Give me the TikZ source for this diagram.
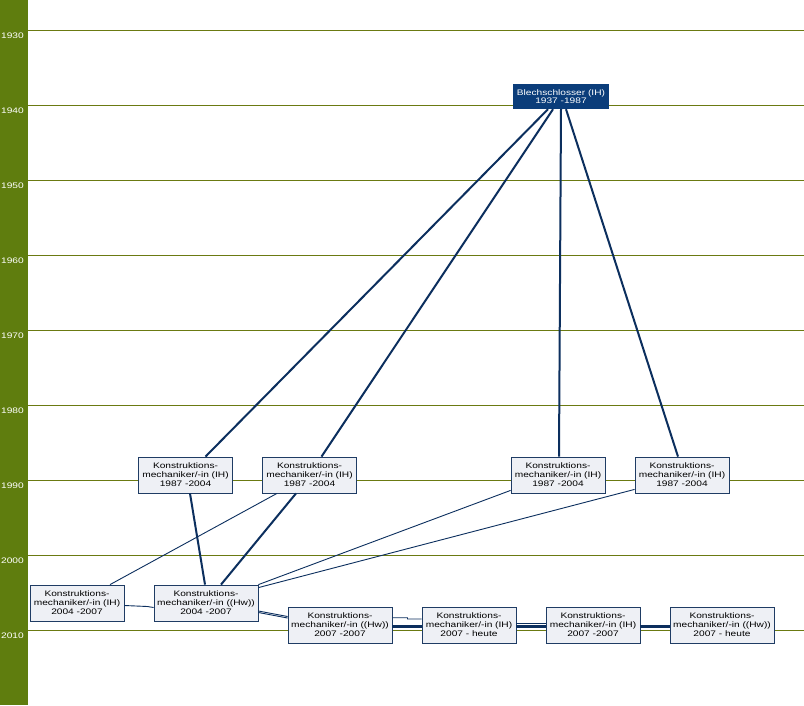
\documentclass[tikz,border=0pt]{standalone}
\usepackage{fontspec}
\setmainfont{Liberation Sans}[FakeStretch=1.27]
\usetikzlibrary{calc}
\definecolor{olivebar}{HTML}{5F7D0E}
\definecolor{gridol}{HTML}{6B7A12}
\definecolor{navy}{HTML}{0C2F5E}
\definecolor{blechfill}{HTML}{0B3D7A}
\definecolor{boxfill}{HTML}{EEF0F5}
\definecolor{boxline}{HTML}{1F3C64}
\begin{document}
\begin{tikzpicture}[x=1pt,y=-1pt,
 kbox/.style={draw=boxline,fill=boxfill,line width=0.8pt,minimum width=94,minimum height=36,inner sep=0pt,align=center,font=\fontsize{8}{9}\selectfont},
 kwide/.style={kbox,minimum width=104},
 bbox/.style={fill=blechfill,text=white,minimum width=96,minimum height=25,inner sep=0pt,align=center,font=\fontsize{8}{8}\selectfont},
 thickconn/.style={draw=navy,line width=2pt},
 thickerconn/.style={draw=navy,line width=3pt},
 thinconn/.style={draw=navy,line width=0.9pt},
 gridline/.style={draw=gridol,line width=0.9pt},
 year/.style={text=white,font=\fontsize{8}{8}\selectfont,anchor=west,inner sep=0pt}]
\useasboundingbox (0,0) rectangle (804,705);
\fill[white] (0,0) rectangle (804,705);
\fill[olivebar] (0,0) rectangle (28,705);
\foreach \yy/\lab in {30/1930,105/1940,180/1950,255/1960,330/1970,405/1980,480/1990,555/2000,630/2010}{
  \draw[gridline] (28,\yy) -- (804,\yy);
  \node[year] (y\lab) at (1,\yy+6) {\lab};
}
% nodes
\node[bbox] (blech) at (561,96.5) {Blechschlosser (IH)\\1937 -1987};
\node[kbox] (k1) at (185.5,475) {Konstruktions-\\mechaniker/-in (IH)\\1987 -2004};
\node[kbox] (k2) at (309.5,475) {Konstruktions-\\mechaniker/-in (IH)\\1987 -2004};
\node[kbox] (k3) at (558,475) {Konstruktions-\\mechaniker/-in (IH)\\1987 -2004};
\node[kbox] (k4) at (682,475) {Konstruktions-\\mechaniker/-in (IH)\\1987 -2004};
\node[kbox] (ih04) at (77,603) {Konstruktions-\\mechaniker/-in (IH)\\2004 -2007};
\node[kwide] (hw04) at (206,603) {Konstruktions-\\mechaniker/-in ((Hw))\\2004 -2007};
\node[kwide] (hw07) at (340,625) {Konstruktions-\\mechaniker/-in ((Hw))\\2007 -2007};
\node[kbox] (ih07h) at (469,625) {Konstruktions-\\mechaniker/-in (IH)\\2007 - heute};
\node[kbox] (ih0707) at (593,625) {Konstruktions-\\mechaniker/-in (IH)\\2007 -2007};
\node[kwide] (hw07h) at (722,625) {Konstruktions-\\mechaniker/-in ((Hw))\\2007 - heute};
% connectors (behind nodes)
\begin{scope}[on background layer/.style={}]
\end{scope}
\draw[thickconn] ([xshift=-13]blech.south) -- ([xshift=20]k1.north);
\draw[thickconn] ([xshift=-8]blech.south) -- ([xshift=12]k2.north);
\draw[thickconn] ([xshift=0]blech.south) -- ([xshift=1]k3.north);
\draw[thickconn] ([xshift=5]blech.south) -- ([xshift=-4]k4.north);
\draw[thickconn] ([xshift=4.5]k1.south) -- ([xshift=-1]hw04.north);
\draw[thickconn] ([xshift=-13.5]k2.south) -- ([xshift=15]hw04.north);
\draw[thinconn] ([xshift=-32.5]k2.south) -- ([xshift=33]ih04.north);
\draw[thinconn] ([yshift=3]k3.south west) -- (hw04.north east);
\draw[thinconn] ([yshift=4]k4.south west) -- ([yshift=-3]hw04.north east);
\draw[thinconn] ([yshift=-2.5]ih04.east) -- ++(23,1) -- ([yshift=-4.5]hw04.west);
\draw[thinconn] ([yshift=-8]hw04.east) -- ([yshift=8.5]hw07.west);
\draw[thinconn] ([yshift=-9.5]hw04.east) -- ([yshift=7]hw07.west);
\draw[thinconn] ([yshift=7.3]hw07.east) -- ++(15,0) -- ([yshift=6,xshift=-14]ih07h.west) -- ([yshift=6]ih07h.west);
\draw[thickerconn] ([yshift=-1]hw07.east) -- ([yshift=-1]ih07h.west);
\draw[thinconn] ([yshift=2]ih07h.east) -- ([yshift=2]ih0707.west);
\draw[thickerconn] ([yshift=-1]ih07h.east) -- ([yshift=-1]ih0707.west);
\draw[thickerconn] ([yshift=-1.5]ih0707.east) -- ([yshift=-1.5]hw07h.west);
\end{tikzpicture}
\end{document}
